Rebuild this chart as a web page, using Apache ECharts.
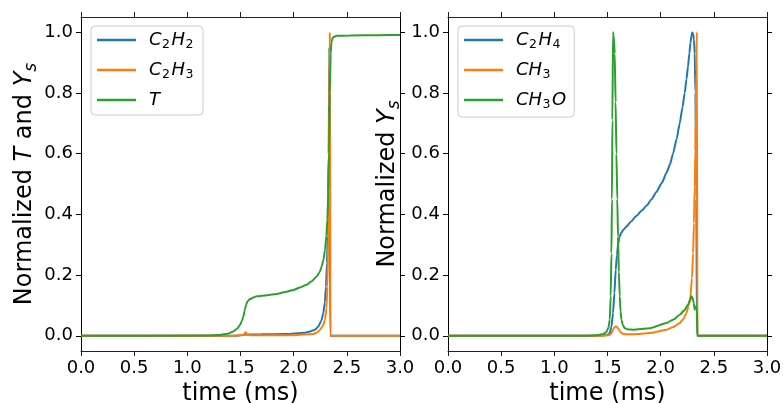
<!DOCTYPE html>
<html><head><meta charset="utf-8">
<script src="https://cdn.jsdelivr.net/npm/echarts@6/dist/echarts.min.js"></script>
<style>html,body{margin:0;padding:0;background:#fff}#c{width:783px;height:403px}</style>
</head><body><div id="c"></div>
<script>
// ---- tick values ----
const xTickValues = [0, 0.5, 1.0, 1.5, 2.0, 2.5, 3.0];
const yTickValues = [0, 0.2, 0.4, 0.6, 0.8, 1.0];

// ---- left panel ----
const leftNames = ['C2H2', 'C2H3', 'T'];
const leftC2H2_t = [0, 1.45, 1.552, 1.7, 1.928, 2.1, 2.154, 2.2, 2.232, 2.26, 2.279, 2.293, 2.304, 2.313, 2.32, 2.329, 2.336, 2.343, 3.0];
const leftC2H2_v = [0, 0, 0.004, 0.005, 0.006, 0.01, 0.014, 0.02, 0.031, 0.05, 0.075, 0.11, 0.162, 0.24, 0.327, 0.6, 0.95, 0, 0];
const leftC2H3_t = [0, 1.45, 1.527, 1.549, 1.565, 1.6, 2.0, 2.185, 2.22, 2.248, 2.275, 2.295, 2.308, 2.317, 2.325, 2.33, 2.335, 2.34, 2.346, 3.0];
const leftC2H3_v = [0, 0, 0.003, 0.012, 0.003, 0.002, 0.002, 0.006, 0.011, 0.02, 0.033, 0.053, 0.09, 0.162, 0.32, 0.49, 0.75, 1.0, 0, 0];
const leftT_t = [0, 1.2, 1.307, 1.38, 1.432, 1.47, 1.495, 1.512, 1.527, 1.54, 1.552, 1.567, 1.589, 1.62, 1.652, 1.75, 1.84, 1.92, 1.997, 2.06, 2.122, 2.17, 2.216, 2.245, 2.263, 2.28, 2.295, 2.307, 2.317, 2.325, 2.332, 2.34, 2.348, 2.356, 2.364, 2.38, 2.405, 2.53, 2.8, 3.0];
const leftT_v = [0, 0.001, 0.003, 0.007, 0.014, 0.024, 0.036, 0.048, 0.064, 0.084, 0.102, 0.114, 0.121, 0.126, 0.13, 0.134, 0.138, 0.144, 0.151, 0.159, 0.168, 0.18, 0.195, 0.21, 0.228, 0.25, 0.283, 0.33, 0.382, 0.47, 0.6, 0.8, 0.93, 0.968, 0.98, 0.985, 0.988, 0.989, 0.99, 0.991];

// ---- right panel ----
const rightNames = ['C2H4', 'CH3', 'CH3O'];
const rightC2H4_t = [0, 1.4, 1.48, 1.505, 1.521, 1.537, 1.552, 1.565, 1.577, 1.589, 1.599, 1.612, 1.631, 1.652, 1.678, 1.72, 1.772, 1.82, 1.866, 1.915, 1.96, 2.01, 2.054, 2.088, 2.116, 2.15, 2.179, 2.205, 2.226, 2.243, 2.257, 2.27, 2.28, 2.29, 2.298, 2.305, 2.313, 2.32, 2.327, 2.335, 2.342, 3.0];
const rightC2H4_v = [0, 0, 0.002, 0.004, 0.009, 0.03, 0.075, 0.14, 0.217, 0.265, 0.3, 0.325, 0.34, 0.35, 0.36, 0.376, 0.395, 0.412, 0.428, 0.45, 0.474, 0.503, 0.536, 0.565, 0.6, 0.648, 0.7, 0.752, 0.8, 0.845, 0.887, 0.93, 0.964, 0.99, 0.999, 0.995, 0.975, 0.93, 0.8, 0.45, 0, 0];
const rightCH3_t = [0, 1.4, 1.48, 1.521, 1.537, 1.552, 1.563, 1.574, 1.587, 1.599, 1.615, 1.631, 1.655, 1.678, 1.8, 1.897, 2.054, 2.12, 2.179, 2.215, 2.242, 2.262, 2.28, 2.294, 2.305, 2.313, 2.32, 2.326, 2.33, 2.335, 2.34, 2.346, 3.0];
const rightCH3_v = [0, 0, 0.001, 0.003, 0.008, 0.02, 0.027, 0.031, 0.03, 0.025, 0.016, 0.009, 0.006, 0.005, 0.006, 0.009, 0.02, 0.029, 0.042, 0.056, 0.075, 0.098, 0.13, 0.19, 0.272, 0.37, 0.49, 0.61, 0.71, 0.87, 1.0, 0, 0];
const rightCH3O_t = [0, 1.3, 1.4, 1.45, 1.49, 1.51, 1.521, 1.53, 1.537, 1.542, 1.546, 1.552, 1.558, 1.568, 1.576, 1.584, 1.592, 1.599, 1.607, 1.615, 1.623, 1.631, 1.645, 1.662, 1.7, 1.74, 1.897, 2.054, 2.12, 2.179, 2.22, 2.257, 2.278, 2.289, 2.3, 2.311, 2.32, 2.326, 2.33, 2.336, 2.341, 2.345, 3.0];
const rightCH3O_v = [0, 0, 0.002, 0.005, 0.012, 0.028, 0.053, 0.13, 0.272, 0.45, 0.711, 1.0, 0.99, 0.93, 0.77, 0.6, 0.45, 0.327, 0.21, 0.13, 0.08, 0.053, 0.035, 0.025, 0.021, 0.02, 0.025, 0.042, 0.054, 0.069, 0.083, 0.102, 0.118, 0.13, 0.125, 0.108, 0.086, 0.092, 0.096, 0.094, 0.09, 0, 0];

// ---- legend labels (rich text) ----
const legendLabels = {
  'C2H2': '{i|C}{s|2}{i|H}{s|2}',
  'C2H3': '{i|C}{s|2}{i|H}{s|3}',
  'T': '{i|T}',
  'C2H4': '{i|C}{s|2}{i|H}{s|4}',
  'CH3': '{i|CH}{s|3}',
  'CH3O': '{i|CH}{s|3}{i|O}'
};

const colors = ['#1f77b4', '#ff7f0e', '#2ca02c'];
const FONT = 'DejaVu Sans';

function pairs(t, v) { return t.map((x, i) => [x, v[i]]); }

const legendRich = {
  i: { fontFamily: FONT, fontStyle: 'italic', fontSize: 18, lineHeight: 22, color: '#000' },
  s: { fontFamily: FONT, fontSize: 12.5, lineHeight: 13, verticalAlign: 'bottom', padding: [0, 1.5, 0, 0.5], color: '#000' }
};
const nameRich = {
  n: { fontFamily: FONT, fontSize: 24, lineHeight: 30, color: '#000' },
  i: { fontFamily: FONT, fontStyle: 'italic', fontSize: 24, lineHeight: 30, color: '#000' },
  s: { fontFamily: FONT, fontStyle: 'italic', fontSize: 17, lineHeight: 20, verticalAlign: 'bottom', color: '#000' }
};

function xAxes(gi) {
  return [{
    type: 'value', gridIndex: gi, position: 'bottom', min: 0, max: 3, interval: 0.5,
    axisLine: { onZero: false, lineStyle: { color: '#222', width: 1 } },
    axisTick: { show: true, length: 5, lineStyle: { color: '#222', width: 1 } },
    axisLabel: { margin: 8, fontSize: 18, fontFamily: FONT, color: '#000', formatter: v => v.toFixed(1) },
    splitLine: { show: false },
    name: 'time (ms)', nameLocation: 'middle', nameGap: 31,
    nameTextStyle: { fontSize: 24, fontFamily: FONT, color: '#000' }
  }, {
    type: 'value', gridIndex: gi, position: 'top', min: 0, max: 3, interval: 0.5,
    axisLine: { onZero: false, lineStyle: { color: '#222', width: 1 } },
    axisTick: { show: true, length: 5, lineStyle: { color: '#222', width: 1 } },
    axisLabel: { show: false }, splitLine: { show: false }
  }];
}
function yAxes(gi, name, gap) {
  return [{
    type: 'value', gridIndex: gi, position: 'left', min: -0.05, max: 1.05,
    axisLine: { show: true, onZero: false, lineStyle: { color: '#000', width: 1 } },
    axisTick: { show: true, length: 5, customValues: yTickValues, lineStyle: { color: '#000', width: 1 } },
    axisLabel: { margin: 8, fontSize: 18, fontFamily: FONT, color: '#000', customValues: yTickValues, formatter: v => v.toFixed(1) },
    splitLine: { show: false },
    name: name, nameLocation: 'middle', nameRotate: 90, nameGap: gap,
    nameTextStyle: { fontSize: 24, fontFamily: FONT, color: '#000', rich: nameRich }
  }, {
    type: 'value', gridIndex: gi, position: 'right', min: -0.05, max: 1.05,
    axisLine: { show: true, onZero: false, lineStyle: { color: '#000', width: 1 } },
    axisTick: { show: true, length: 5, customValues: yTickValues, lineStyle: { color: '#000', width: 1 } },
    axisLabel: { show: false }, splitLine: { show: false }
  }];
}
function legendCfg(names, left) {
  return {
    data: names, orient: 'vertical', left: left, top: 26,
    padding: [5, 8, 6, 6], itemGap: 10, itemWidth: 39, itemHeight: 2.5, icon: 'rect',
    backgroundColor: 'rgba(255,255,255,0.8)', borderColor: '#cccccc', borderWidth: 1, borderRadius: 4,
    formatter: n => legendLabels[n],
    textStyle: { padding: [0, 0, 0, 8], fontFamily: FONT, fontSize: 18, color: '#000', rich: legendRich },
    selectedMode: false
  };
}
function line(name, t, v, ci, axi) {
  return {
    name: name, type: 'line', xAxisIndex: axi, yAxisIndex: axi, data: pairs(t, v),
    showSymbol: false, symbol: 'none', color: colors[ci],
    smooth: 0.2, smoothMonotone: 'x',
    lineStyle: { width: 2, color: colors[ci] }, clip: true, silent: true
  };
}

const chart = echarts.init(document.getElementById('c'), null, { renderer: 'canvas' });
chart.setOption({
  animation: false,
  backgroundColor: '#fff',
  grid: [
    { left: 81, top: 17, width: 319, height: 334, outerBoundsMode: 'none', containLabel: false },
    { left: 448, top: 17, width: 319, height: 334, outerBoundsMode: 'none', containLabel: false }
  ],
  xAxis: [...xAxes(0), ...xAxes(1)],
  yAxis: [
    ...yAxes(0, '{n|Normalized }{i|T}{n| and }{i|Y}{s|s}', 41),
    ...yAxes(1, '{n|Normalized }{i|Y}{s|s}', 45)
  ],
  legend: [legendCfg(leftNames, 91), legendCfg(rightNames, 458)],
  series: [
    line('C2H2', leftC2H2_t, leftC2H2_v, 0, 0),
    line('C2H3', leftC2H3_t, leftC2H3_v, 1, 0),
    line('T', leftT_t, leftT_v, 2, 0),
    line('C2H4', rightC2H4_t, rightC2H4_v, 0, 2),
    line('CH3', rightCH3_t, rightCH3_v, 1, 2),
    line('CH3O', rightCH3O_t, rightCH3O_v, 2, 2)
  ]
});
</script>
</body></html>
